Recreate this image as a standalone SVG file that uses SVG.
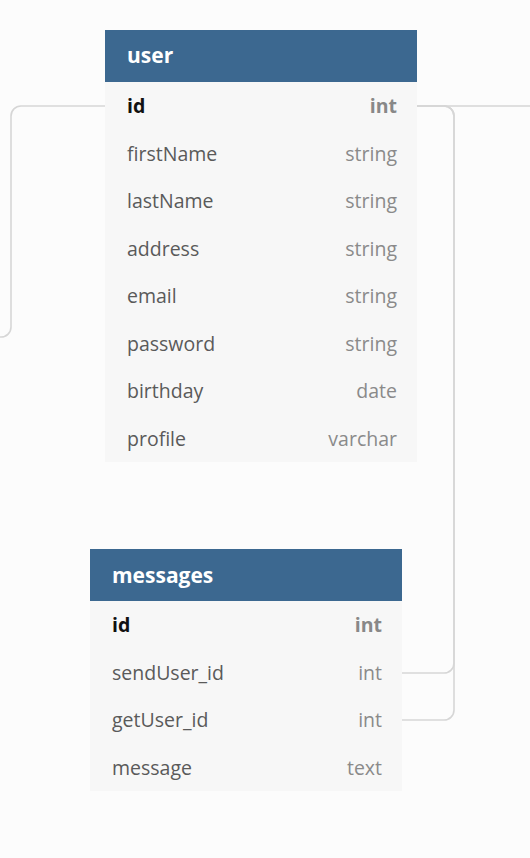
<svg xmlns="http://www.w3.org/2000/svg" width="530" height="858" viewBox="0 0 530 858">
<style>
.bg{fill:#fcfcfc}
.tbl{fill:#f7f7f7}
.hdr{fill:#3c6890}
.title{font-family:"Open Sans","Noto Sans",sans-serif;font-size:21px;font-weight:700;fill:#ffffff}
.name{font-family:"Open Sans","Noto Sans",sans-serif;font-size:19.5px;fill:#5a5a5a}
.pk{font-weight:700;fill:#111111}
.type{font-family:"Open Sans","Noto Sans",sans-serif;font-size:19.5px;fill:#8a8a8a;text-anchor:end}
.pkt{font-weight:700;fill:#888888}
.conn{fill:none;stroke:#d6d6d6;stroke-width:1.6}
</style>
<rect class="bg" x="0" y="0" width="530" height="858"/>
<g id="connectors">
<path class="conn" d="M417 106 H530"/>
<path class="conn" d="M105 106 H21 A10 10 0 0 0 11 116 V327 A10 10 0 0 1 1 337 H0"/>
<path class="conn" d="M417 106 H444 A10 10 0 0 1 454 116 V663 A10 10 0 0 1 444 673 H402"/>
<path class="conn" d="M417 106 H444 A10 10 0 0 1 454 116 V710 A10 10 0 0 1 444 720 H402"/>
</g>
<g id="user">
<rect class="tbl" x="105" y="82" width="312" height="380"/>
<rect class="hdr" x="105" y="30" width="312" height="52"/>
<text class="title" x="127" y="63">user</text>
<text class="name pk" x="127" y="113">id</text><text class="type pkt" x="397" y="113">int</text>
<text class="name" x="127" y="161">firstName</text><text class="type" x="397" y="161">string</text>
<text class="name" x="127" y="208">lastName</text><text class="type" x="397" y="208">string</text>
<text class="name" x="127" y="256">address</text><text class="type" x="397" y="256">string</text>
<text class="name" x="127" y="303">email</text><text class="type" x="397" y="303">string</text>
<text class="name" x="127" y="351">password</text><text class="type" x="397" y="351">string</text>
<text class="name" x="127" y="398">birthday</text><text class="type" x="397" y="398">date</text>
<text class="name" x="127" y="446">profile</text><text class="type" x="397" y="446">varchar</text>
</g>
<g id="messages">
<rect class="tbl" x="90" y="601" width="312" height="190"/>
<rect class="hdr" x="90" y="549" width="312" height="52"/>
<text class="title" x="112" y="583">messages</text>
<text class="name pk" x="112" y="632">id</text><text class="type pkt" x="382" y="632">int</text>
<text class="name" x="112" y="680">sendUser_id</text><text class="type" x="382" y="680">int</text>
<text class="name" x="112" y="727">getUser_id</text><text class="type" x="382" y="727">int</text>
<text class="name" x="112" y="775">message</text><text class="type" x="382" y="775">text</text>
</g>
</svg>
